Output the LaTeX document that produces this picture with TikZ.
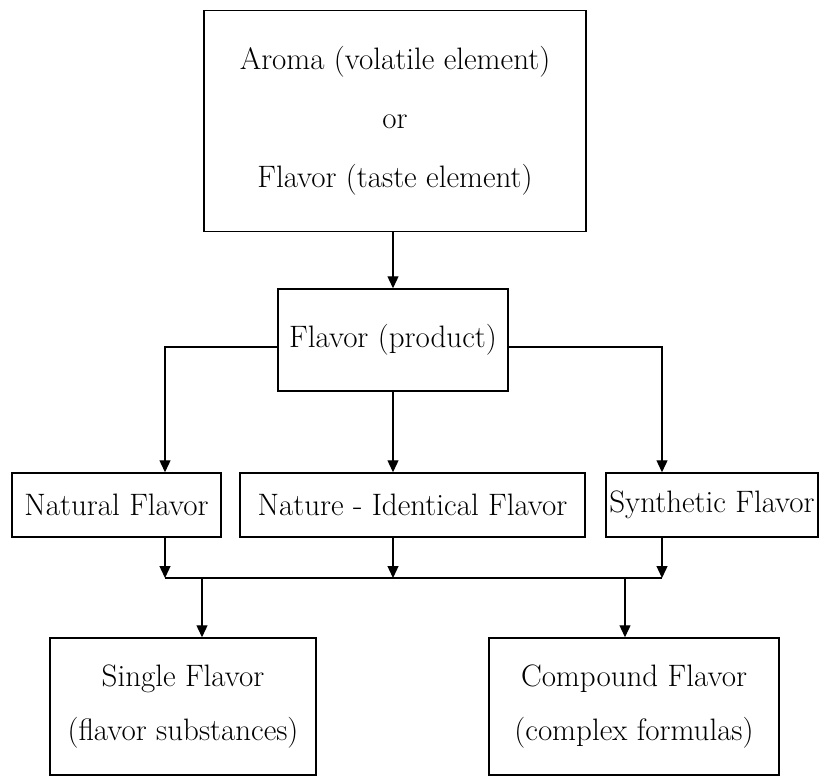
\documentclass[tikz,border=0pt]{standalone}
\usetikzlibrary{arrows.meta}

\begin{document}
\begin{tikzpicture}[x=1pt,y=-1pt,>={Triangle[length=12pt,width=11pt]},
  every node/.style={font=\fontsize{31}{37}\selectfont},
  flowbox/.style={draw,line width=1.5pt,align=center,inner sep=0pt},
  link/.style={line width=1.3pt}]
  \useasboundingbox (0,0) rectangle (821,776);
  % boxes
  \node[flowbox,minimum width=382pt,minimum height=221pt] (aroma) at (395,121)
    {Aroma (volatile element)\\[22pt] or\\[22pt] Flavor (taste element)};
  \node[flowbox,minimum width=230pt,minimum height=102pt] (product) at (393,340)
    {Flavor (product)};
  \node[flowbox,minimum width=209pt,minimum height=64pt] (natural) at (116.5,505)
    {Natural Flavor};
  \node[flowbox,minimum width=345pt,minimum height=64pt] (identical) at (412.5,505)
    {Nature - Identical Flavor};
  \node[flowbox,minimum width=212pt,minimum height=64pt] (synthetic) at (712,505)
    {Synthetic Flavor};
  \node[flowbox,minimum width=266pt,minimum height=137pt] (single) at (183,706.5)
    {Single Flavor\\[17pt] (flavor substances)};
  \node[flowbox,minimum width=290pt,minimum height=137pt] (compound) at (634,706.5)
    {Compound Flavor\\[17pt] (complex formulas)};
  % collecting line
  \coordinate (busL) at (165,578);
  \coordinate (busM) at (393,578);
  \coordinate (busR) at (662,578);
  \coordinate (tapL) at (202,578);
  \coordinate (tapR) at (625,578);
  % connectors
  \draw[link,->] (product.north |- aroma.south) -- (product.north);
  \draw[link,->] ([yshift=-7pt]product.west) -| (busL |- natural.north);
  \draw[link,->] ([yshift=-7pt]product.east) -| (busR |- synthetic.north);
  \draw[link,->] (product.south) -- (busM |- identical.north);
  \draw[link,->] (busL |- natural.south) -- (busL);
  \draw[link,->] (busM |- identical.south) -- (busM);
  \draw[link,->] (busR |- synthetic.south) -- (busR);
  \draw[link] (busL) -- (busR);
  \draw[link,->] (tapL) -- (tapL |- single.north);
  \draw[link,->] (tapR) -- (tapR |- compound.north);
\end{tikzpicture}
\end{document}
